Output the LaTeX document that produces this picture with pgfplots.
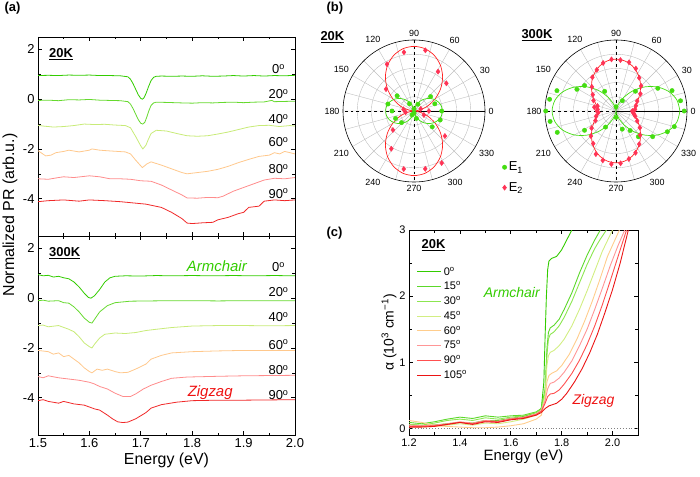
\documentclass[border=0pt]{standalone}
\usepackage{pgfplots}
\pgfplotsset{compat=1.18}
\usepgfplotslibrary{polar}
\usepackage{fontspec}
\setmainfont{Liberation Sans}
\pgfplotsset{/pgf/number format/assume math mode=true}
\definecolor{a0}{HTML}{33CC00}
\definecolor{a20}{HTML}{66D92E}
\definecolor{a40}{HTML}{C8EB78}
\definecolor{a60}{HTML}{FFC88C}
\definecolor{a80}{HTML}{FF8C8C}
\definecolor{a90}{HTML}{F02828}
\definecolor{c0}{HTML}{33CC00}
\definecolor{c15}{HTML}{5CD82A}
\definecolor{c30}{HTML}{8CE650}
\definecolor{c45}{HTML}{D2EE82}
\definecolor{c60}{HTML}{FFCD8C}
\definecolor{c75}{HTML}{FF9696}
\definecolor{c90}{HTML}{FF5050}
\definecolor{c105}{HTML}{EB1414}
\definecolor{gP}{HTML}{44DD11}
\definecolor{rP}{HTML}{FF3355}
\definecolor{rC}{HTML}{FF2222}
\definecolor{arm}{HTML}{33CC00}
\definecolor{zig}{HTML}{EE1111}
\tikzset{degl/.style={font=\fontsize{13}{14}\selectfont}}
\pgfplotsset{
  aframe/.style={scale only axis, width=257bp, height=199bp,
    xmin=1.5, xmax=2.0, ymin=-5.5, ymax=2.5,
    xtick={1.5,1.6,1.7,1.8,1.9,2.0}, ytick={-4,-2,0,2},
    minor x tick num=1, minor y tick num=1,
    tick align=inside, tick pos=both,
    major tick length=4bp, minor tick length=2.5bp,
    tick label style={font=\fontsize{13}{14}\selectfont},
    axis line style={line width=0.7pt},
    every tick/.style={black, line width=0.6pt},
    every axis plot/.append style={line width=0.8pt, no marks}},
  pframe/.style={scale only axis, width=142bp, height=142bp,
    ymin=0, ymax=1, ytick={0.2,0.4,0.6,0.8}, yticklabels={},
    xtick={0,30,...,330}, minor xtick={15,45,...,345},
    xticklabel={\pgfmathprintnumber{\tick}},
    grid=both, major grid style={gray!50, line width=0.4pt},
    minor grid style={gray!50, line width=0.4pt},
    tick style={draw=none},
    axis line style={black, line width=0.6pt},
    tick label style={font=\fontsize{9}{10}\selectfont}}
}
\begin{document}
\begin{tikzpicture}
\path[use as bounding box] (0,0) rectangle (700bp,477bp);

% ---------------- (a) top: 20K
\begin{axis}[aframe, at={(38bp,241bp)}, anchor=south west, xticklabels={}]
\addplot[a0] coordinates {(1.50,0.95)(1.52,0.96)(1.54,0.95)(1.56,0.97)(1.58,0.96)(1.60,0.97)(1.62,0.95)(1.64,0.95)(1.66,0.94)(1.675,0.90)(1.68,0.80)(1.685,0.62)(1.69,0.40)(1.695,0.18)(1.70,0.03)(1.703,0.0)(1.706,0.05)(1.71,0.22)(1.715,0.50)(1.72,0.75)(1.725,0.88)(1.73,0.92)(1.74,0.93)(1.76,0.92)(1.78,0.93)(1.80,0.92)(1.82,0.94)(1.84,0.92)(1.86,0.93)(1.88,0.95)(1.90,0.93)(1.92,0.95)(1.94,0.93)(1.96,0.95)(1.98,0.94)(2.00,0.96)};
\addplot[a20] coordinates {(1.50,-0.05)(1.52,-0.04)(1.54,-0.06)(1.56,-0.02)(1.58,-0.03)(1.60,-0.01)(1.62,-0.04)(1.64,-0.05)(1.66,-0.06)(1.675,-0.10)(1.68,-0.2)(1.685,-0.38)(1.69,-0.6)(1.695,-0.82)(1.70,-0.97)(1.704,-1.0)(1.708,-0.92)(1.712,-0.7)(1.716,-0.45)(1.72,-0.25)(1.725,-0.15)(1.73,-0.12)(1.75,-0.13)(1.78,-0.15)(1.80,-0.16)(1.82,-0.14)(1.84,-0.15)(1.86,-0.13)(1.88,-0.12)(1.90,-0.14)(1.92,-0.12)(1.94,-0.11)(1.955,-0.05)(1.96,-0.1)(1.98,-0.09)(2.00,-0.08)};
\addplot[a40] coordinates {(1.50,-1.05)(1.51,-1.08)(1.53,-1.12)(1.55,-1.10)(1.57,-1.06)(1.59,-1.00)(1.61,-1.02)(1.63,-1.01)(1.65,-1.04)(1.67,-1.06)(1.68,-1.15)(1.69,-1.5)(1.70,-1.88)(1.704,-2.0)(1.71,-1.85)(1.715,-1.6)(1.72,-1.38)(1.73,-1.25)(1.75,-1.28)(1.77,-1.38)(1.79,-1.47)(1.81,-1.49)(1.83,-1.47)(1.85,-1.40)(1.87,-1.32)(1.89,-1.22)(1.91,-1.12)(1.93,-1.06)(1.95,-1.05)(1.97,-1.10)(1.99,-1.06)(2.00,-1.08)};
\addplot[a60] coordinates {(1.50,-2.07)(1.515,-2.28)(1.525,-2.25)(1.535,-2.15)(1.55,-2.1)(1.56,-2.05)(1.58,-2.12)(1.60,-2.05)(1.605,-2.0)(1.62,-2.05)(1.64,-2.08)(1.67,-2.12)(1.68,-2.2)(1.69,-2.45)(1.703,-2.75)(1.712,-2.6)(1.72,-2.52)(1.74,-2.65)(1.76,-2.8)(1.78,-2.95)(1.79,-3.0)(1.81,-2.95)(1.83,-2.9)(1.85,-2.82)(1.87,-2.7)(1.89,-2.55)(1.91,-2.42)(1.93,-2.3)(1.95,-2.25)(1.96,-2.15)(1.97,-2.2)(1.98,-2.1)(2.00,-2.2)};
\addplot[a80] coordinates {(1.50,-3.2)(1.52,-3.22)(1.54,-3.15)(1.55,-3.12)(1.57,-3.15)(1.60,-3.08)(1.62,-3.12)(1.64,-3.2)(1.66,-3.2)(1.68,-3.22)(1.70,-3.28)(1.72,-3.3)(1.74,-3.45)(1.76,-3.65)(1.78,-3.85)(1.79,-3.97)(1.81,-3.98)(1.83,-3.95)(1.85,-3.96)(1.86,-3.9)(1.88,-3.7)(1.90,-3.55)(1.92,-3.4)(1.94,-3.25)(1.96,-3.18)(1.98,-3.2)(2.00,-3.15)};
\addplot[a90] coordinates {(1.50,-4.12)(1.52,-4.08)(1.55,-4.05)(1.58,-4.1)(1.60,-4.05)(1.63,-4.08)(1.66,-4.12)(1.69,-4.18)(1.71,-4.22)(1.74,-4.35)(1.76,-4.55)(1.78,-4.8)(1.79,-4.98)(1.80,-5.0)(1.82,-4.97)(1.84,-4.95)(1.85,-4.85)(1.87,-4.75)(1.89,-4.6)(1.90,-4.55)(1.91,-4.35)(1.93,-4.3)(1.94,-4.1)(1.96,-4.05)(1.98,-4.08)(2.00,-4.05)};
\node[anchor=west, font=\bfseries\fontsize{13}{14}\selectfont] at (axis cs:1.515,1.8) {\underline{20K}};
\node[degl] at (axis cs:1.968,1.2) {0\textsuperscript{o}};
\node[degl] at (axis cs:1.968,0.2) {20\textsuperscript{o}};
\node[degl] at (axis cs:1.968,-0.8) {40\textsuperscript{o}};
\node[degl] at (axis cs:1.968,-1.72) {60\textsuperscript{o}};
\node[degl] at (axis cs:1.968,-2.8) {80\textsuperscript{o}};
\node[degl] at (axis cs:1.968,-3.8) {90\textsuperscript{o}};
\end{axis}

% ---------------- (a) bottom: 300K
\begin{axis}[aframe, at={(38bp,42bp)}, anchor=south west,
  xticklabel style={/pgf/number format/.cd, fixed, fixed zerofill, precision=1},
  xlabel={Energy (eV)}, xlabel style={font=\fontsize{16}{18}\selectfont, yshift=2bp}]
\addplot[a0] coordinates {(1.50,0.95)(1.51,0.90)(1.52,0.92)(1.53,0.85)(1.54,0.88)(1.55,0.82)(1.56,0.78)(1.57,0.65)(1.58,0.45)(1.59,0.2)(1.598,0.03)(1.603,0.0)(1.61,0.1)(1.62,0.35)(1.63,0.65)(1.64,0.82)(1.65,0.88)(1.67,0.9)(1.70,0.89)(1.73,0.91)(1.76,0.9)(1.80,0.91)(1.84,0.9)(1.88,0.91)(1.92,0.9)(1.96,0.91)(2.00,0.9)};
\addplot[a20] coordinates {(1.50,-0.1)(1.51,-0.08)(1.52,-0.12)(1.54,-0.1)(1.55,-0.18)(1.56,-0.2)(1.57,-0.35)(1.58,-0.55)(1.59,-0.8)(1.60,-0.97)(1.605,-1.0)(1.61,-0.85)(1.62,-0.55)(1.635,-0.3)(1.65,-0.18)(1.68,-0.12)(1.72,-0.11)(1.76,-0.1)(1.80,-0.1)(1.85,-0.11)(1.90,-0.1)(1.95,-0.1)(2.00,-0.1)};
\addplot[a40] coordinates {(1.50,-1.1)(1.51,-1.08)(1.52,-1.15)(1.54,-1.1)(1.56,-1.25)(1.57,-1.35)(1.58,-1.55)(1.59,-1.8)(1.60,-1.95)(1.605,-2.0)(1.61,-1.85)(1.62,-1.6)(1.63,-1.45)(1.65,-1.4)(1.67,-1.42)(1.69,-1.38)(1.71,-1.3)(1.73,-1.25)(1.76,-1.18)(1.80,-1.12)(1.85,-1.1)(1.90,-1.1)(1.95,-1.11)(2.00,-1.1)};
\addplot[a60] coordinates {(1.50,-2.1)(1.52,-2.15)(1.53,-2.25)(1.54,-2.2)(1.55,-2.35)(1.56,-2.3)(1.57,-2.45)(1.58,-2.6)(1.59,-2.8)(1.60,-2.95)(1.605,-3.0)(1.615,-2.85)(1.625,-2.9)(1.635,-2.85)(1.65,-2.95)(1.66,-3.0)(1.675,-2.98)(1.69,-2.85)(1.71,-2.65)(1.72,-2.45)(1.74,-2.3)(1.76,-2.2)(1.80,-2.15)(1.85,-2.12)(1.90,-2.1)(1.95,-2.1)(2.00,-2.1)};
\addplot[a80] coordinates {(1.50,-3.15)(1.51,-3.2)(1.52,-3.12)(1.54,-3.2)(1.56,-3.25)(1.58,-3.3)(1.60,-3.38)(1.61,-3.45)(1.62,-3.55)(1.635,-3.65)(1.65,-3.82)(1.665,-3.95)(1.68,-3.95)(1.69,-3.85)(1.705,-3.65)(1.72,-3.5)(1.74,-3.35)(1.76,-3.22)(1.79,-3.17)(1.85,-3.14)(1.90,-3.12)(1.95,-3.11)(2.00,-3.1)};
\addplot[a90] coordinates {(1.50,-4.12)(1.51,-4.08)(1.52,-4.15)(1.54,-4.22)(1.55,-4.15)(1.57,-4.25)(1.59,-4.3)(1.61,-4.45)(1.62,-4.5)(1.635,-4.7)(1.645,-4.85)(1.655,-4.97)(1.665,-5.0)(1.675,-4.98)(1.69,-4.85)(1.71,-4.6)(1.72,-4.42)(1.74,-4.28)(1.77,-4.18)(1.80,-4.12)(1.85,-4.1)(1.90,-4.1)(1.95,-4.09)(2.00,-4.08)};
\node[anchor=west, font=\bfseries\fontsize{13}{14}\selectfont] at (axis cs:1.515,1.8) {\underline{300K}};
\node[degl] at (axis cs:1.968,1.26) {0\textsuperscript{o}};
\node[degl] at (axis cs:1.968,0.24) {20\textsuperscript{o}};
\node[degl] at (axis cs:1.968,-0.77) {40\textsuperscript{o}};
\node[degl] at (axis cs:1.968,-1.87) {60\textsuperscript{o}};
\node[degl] at (axis cs:1.968,-2.89) {80\textsuperscript{o}};
\node[degl] at (axis cs:1.968,-3.9) {90\textsuperscript{o}};
\node[text=arm, font=\itshape\fontsize{15}{16}\selectfont] at (axis cs:1.848,1.3) {Armchair};
\node[text=zig, font=\itshape\fontsize{15}{16}\selectfont] at (axis cs:1.835,-3.78) {Zigzag};
\end{axis}
\node[rotate=90, font=\fontsize{16}{18}\selectfont] at (10bp,262bp) {Normalized PR (arb.u.)};

% ---------------- (b) left polar: 20K
\begin{polaraxis}[pframe, at={(414bp,366bp)}, anchor=center,
  legend style={draw=none, fill=none, at={(1.10,0.17)}, anchor=north west,
    font=\fontsize{13}{14}\selectfont, row sep=6bp}]
\addplot[only marks, mark=*, mark size=2.2bp, color=gP] coordinates {(138,0.32)(165,0.38)(180,0.31)(202,0.28)(223,0.24)(122,0.12)(60,0.11)(41,0.31)(19,0.31)(0,0.39)(341,0.39)(319,0.34)(288,0.11)(243,0.06)(90,0.03)(270,0.03)};
\addlegendentry{E\textsubscript{1}}
\addplot[only marks, mark=diamond*, mark size=2.6bp, color=rP] coordinates {(99.7,0.84)(79.4,0.87)(58.6,0.65)(40.6,0.60)(120,0.76)(142,0.50)(171,0.15)(189,0.12)(17,0.10)(0,0.21)(338,0.15)(222,0.40)(239,0.62)(260,0.83)(281,0.83)(298,0.83)(321,0.56)};
\addlegendentry{E\textsubscript{2}}
\addplot[black, dashed, line width=0.5pt, forget plot] coordinates {(0,1)(180,1)};
\addplot[black, dashed, line width=0.5pt, forget plot] coordinates {(90,1)(270,1)};
\addplot[rC, smooth, line width=0.7pt, forget plot] coordinates {(0,0)(10,0.078)(20,0.203)(30,0.345)(40,0.490)(50,0.627)(60,0.744)(70,0.834)(80,0.891)(90,0.91)(100,0.891)(110,0.834)(120,0.744)(130,0.627)(140,0.490)(150,0.345)(160,0.203)(170,0.078)(180,0)(190,0.078)(200,0.203)(210,0.345)(220,0.490)(230,0.627)(240,0.744)(250,0.834)(260,0.891)(270,0.91)(280,0.891)(290,0.834)(300,0.744)(310,0.627)(320,0.490)(330,0.345)(340,0.203)(350,0.078)(360,0)};
\addplot[gP, smooth, line width=0.7pt, forget plot] coordinates {(0,0.40)(10,0.392)(20,0.367)(30,0.327)(40,0.276)(50,0.216)(60,0.152)(70,0.089)(80,0.034)(90,0)(100,0.034)(110,0.089)(120,0.152)(130,0.216)(140,0.276)(150,0.327)(160,0.367)(170,0.392)(180,0.40)(190,0.392)(200,0.367)(210,0.327)(220,0.276)(230,0.216)(240,0.152)(250,0.089)(260,0.034)(270,0)(280,0.034)(290,0.089)(300,0.152)(310,0.216)(320,0.276)(330,0.327)(340,0.367)(350,0.392)(360,0.40)};
\end{polaraxis}

% ---------------- (b) right polar: 300K
\begin{polaraxis}[pframe, at={(616bp,366bp)}, anchor=center]
\addplot[black, dashed, line width=0.5pt] coordinates {(0,1)(180,1)};
\addplot[black, dashed, line width=0.5pt] coordinates {(90,1)(270,1)};
\addplot[gP, smooth, line width=0.7pt] coordinates {(0,0.90)(10,0.873)(20,0.795)(30,0.675)(40,0.528)(50,0.372)(60,0.225)(70,0.105)(80,0.027)(90,0)(100,0.027)(110,0.105)(120,0.225)(130,0.372)(140,0.528)(150,0.675)(160,0.795)(170,0.873)(180,0.90)(190,0.873)(200,0.795)(210,0.675)(220,0.528)(230,0.372)(240,0.225)(250,0.105)(260,0.027)(270,0)(280,0.027)(290,0.105)(300,0.225)(310,0.372)(320,0.528)(330,0.675)(340,0.795)(350,0.873)(360,0.90)};
\addplot[rC, smooth, line width=0.7pt] coordinates {(0,0.25)(10,0.264)(20,0.306)(30,0.37)(40,0.448)(50,0.532)(60,0.61)(70,0.674)(80,0.716)(90,0.73)(100,0.716)(110,0.674)(120,0.61)(130,0.532)(140,0.448)(150,0.37)(160,0.306)(170,0.264)(180,0.25)(190,0.264)(200,0.306)(210,0.37)(220,0.448)(230,0.532)(240,0.61)(250,0.674)(260,0.716)(270,0.73)(280,0.716)(290,0.674)(300,0.61)(310,0.532)(320,0.448)(330,0.37)(340,0.306)(350,0.264)(360,0.25)};
\addplot[only marks, mark=*, mark size=2.2bp, color=gP] coordinates {(161,0.88)(170,0.95)(180,0.99)(189,0.94)(200,0.88)(151,0.63)(141,0.57)(120,0.32)(90,0.06)(270,0.09)(237,0.27)(211.5,0.52)(289,0.27)(306,0.34)(311,0.48)(325,0.63)(338,0.78)(345,0.85)(0,0.96)(9,0.92)(20,0.84)(28.5,0.67)(45.5,0.39)(58.5,0.17)};
\addplot[only marks, mark=diamond*, mark size=2.6bp, color=rP] coordinates {(5,0.27)(15,0.29)(25,0.33)(35,0.42)(45,0.50)(55,0.57)(65,0.66)(75,0.71)(85,0.72)(95,0.73)(105,0.70)(115,0.64)(125,0.58)(135,0.48)(145,0.40)(155,0.35)(165,0.27)(175,0.26)(185,0.25)(195,0.29)(205,0.32)(215,0.42)(225,0.50)(235,0.56)(245,0.67)(255,0.72)(265,0.75)(275,0.74)(285,0.70)(295,0.65)(305,0.57)(315,0.48)(325,0.41)(335,0.33)(345,0.28)(355,0.24)(180,0.27)(170,0.31)(0,0.23)(350,0.26)};
\end{polaraxis}
\node[anchor=west, font=\bfseries\fontsize{13}{14}\selectfont] at (317bp,440bp) {\underline{20K}};
\node[anchor=west, font=\bfseries\fontsize{13}{14}\selectfont] at (518bp,442bp) {\underline{300K}};

% ---------------- (c)
\begin{axis}[scale only axis, width=229bp, height=205bp, at={(409bp,42bp)}, anchor=south west,
  xmin=1.2, xmax=2.1, ymin=-0.1, ymax=3,
  xtick={1.2,1.4,1.6,1.8,2.0}, ytick={0,1,2,3},
  minor x tick num=1, minor y tick num=1,
  xticklabel style={/pgf/number format/.cd, fixed, fixed zerofill, precision=1},
  tick align=inside, tick pos=both,
  major tick length=4bp, minor tick length=2.5bp,
  tick label style={font=\fontsize{11}{12}\selectfont},
  axis line style={line width=0.7pt},
  every tick/.style={black, line width=0.6pt},
  xlabel={Energy (eV)}, xlabel style={font=\fontsize{15}{16}\selectfont, yshift=3bp},
  ylabel={α (10\textsuperscript{3} cm\textsuperscript{−1})}, ylabel style={font=\fontsize{14}{16}\selectfont, yshift=-4bp},
  every axis plot/.append style={line width=0.9pt, no marks},
  legend style={draw=none, fill=none, at={(0.02,0.84)}, anchor=north west,
    font=\fontsize{11}{12}\selectfont, row sep=1.2bp},
  legend cell align=left,
  legend image code/.code={\draw[#1, line width=1.1pt] (0bp,0bp) -- (24bp,0bp);}]
\addplot[gray, dotted, line width=0.6pt, forget plot] coordinates {(1.2,0)(2.1,0)};
\addplot[c0] coordinates {(1.20,0.06)(1.25,0.04)(1.30,0.05)(1.35,0.07)(1.40,0.09)(1.45,0.08)(1.50,0.12)(1.55,0.12)(1.60,0.15)(1.65,0.18)(1.70,0.24)(1.72,0.30)(1.73,0.7)(1.735,1.4)(1.74,2.0)(1.745,2.4)(1.75,2.53)(1.76,2.57)(1.78,2.6)(1.80,2.7)(1.82,2.85)(1.84,3.0)};
\addlegendentry{0\textsuperscript{o}}
\addplot[c15] coordinates {(1.2,0.09)(1.25,0.07)(1.3,0.1)(1.35,0.14)(1.4,0.17)(1.45,0.15)(1.5,0.19)(1.55,0.17)(1.6,0.19)(1.65,0.2)(1.7,0.25)(1.72,0.3)(1.735,0.6)(1.742,1.2)(1.748,1.45)(1.755,1.52)(1.77,1.56)(1.79,1.65)(1.81,1.8)(1.84,2.05)(1.87,2.35)(1.90,2.62)(1.93,2.85)(1.952,3.0)};
\addlegendentry{15\textsuperscript{o}}
\addplot[c30] coordinates {(1.2,0.06)(1.25,0.05)(1.3,0.08)(1.35,0.12)(1.4,0.14)(1.45,0.12)(1.5,0.16)(1.55,0.14)(1.6,0.17)(1.65,0.19)(1.7,0.24)(1.72,0.29)(1.735,0.55)(1.742,1.1)(1.748,1.35)(1.755,1.42)(1.77,1.46)(1.79,1.55)(1.81,1.68)(1.84,1.92)(1.87,2.2)(1.90,2.48)(1.93,2.72)(1.95,2.85)(1.976,3.0)};
\addlegendentry{30\textsuperscript{o}}
\addplot[c45] coordinates {(1.2,0.03)(1.25,0.02)(1.3,0.03)(1.35,0.05)(1.4,0.07)(1.45,0.05)(1.5,0.08)(1.55,0.07)(1.6,0.1)(1.65,0.14)(1.7,0.2)(1.72,0.26)(1.735,0.5)(1.742,0.95)(1.748,1.1)(1.755,1.15)(1.77,1.18)(1.79,1.25)(1.81,1.35)(1.84,1.55)(1.87,1.8)(1.90,2.08)(1.93,2.38)(1.96,2.68)(2.0,3.0)};
\addlegendentry{45\textsuperscript{o}}
\addplot[c60] coordinates {(1.2,0.12)(1.25,0.09)(1.3,0.04)(1.35,0.03)(1.4,0.02)(1.45,0.01)(1.5,0.01)(1.55,0.02)(1.6,0.04)(1.65,0.07)(1.7,0.14)(1.72,0.2)(1.735,0.42)(1.742,0.7)(1.75,0.8)(1.76,0.83)(1.78,0.87)(1.80,0.95)(1.83,1.12)(1.86,1.35)(1.89,1.62)(1.92,1.92)(1.95,2.25)(1.98,2.6)(2.027,3.0)};
\addlegendentry{60\textsuperscript{o}}
\addplot[c75] coordinates {(1.2,0.05)(1.25,0.04)(1.3,0.05)(1.35,0.07)(1.4,0.1)(1.45,0.08)(1.5,0.12)(1.55,0.11)(1.6,0.15)(1.65,0.17)(1.7,0.22)(1.72,0.27)(1.735,0.42)(1.745,0.6)(1.755,0.68)(1.77,0.7)(1.79,0.76)(1.81,0.85)(1.84,1.02)(1.87,1.25)(1.90,1.5)(1.93,1.8)(1.96,2.12)(1.99,2.45)(2.02,2.75)(2.048,3.0)};
\addlegendentry{75\textsuperscript{o}}
\addplot[c90] coordinates {(1.2,0.03)(1.25,0.03)(1.3,0.04)(1.35,0.06)(1.4,0.09)(1.45,0.07)(1.5,0.11)(1.55,0.1)(1.6,0.14)(1.65,0.16)(1.7,0.21)(1.72,0.26)(1.735,0.38)(1.745,0.48)(1.755,0.52)(1.77,0.53)(1.79,0.58)(1.81,0.67)(1.84,0.83)(1.87,1.03)(1.90,1.27)(1.93,1.55)(1.96,1.87)(1.99,2.22)(2.02,2.58)(2.055,3.0)};
\addlegendentry{90\textsuperscript{o}}
\addplot[c105] coordinates {(1.2,0.02)(1.25,0.02)(1.3,0.03)(1.35,0.06)(1.4,0.09)(1.45,0.06)(1.5,0.1)(1.55,0.09)(1.6,0.13)(1.65,0.15)(1.7,0.2)(1.72,0.24)(1.735,0.3)(1.75,0.34)(1.765,0.36)(1.78,0.38)(1.80,0.44)(1.82,0.53)(1.85,0.7)(1.88,0.9)(1.91,1.14)(1.94,1.42)(1.97,1.75)(2.0,2.1)(2.03,2.5)(2.062,3.0)};
\addlegendentry{105\textsuperscript{o}}
\node[anchor=west, font=\bfseries\fontsize{13}{14}\selectfont] at (axis cs:1.236,2.77) {\underline{20K}};
\node[text=arm, font=\itshape\fontsize{14}{15}\selectfont] at (axis cs:1.604,2.06) {Armchair};
\node[text=zig, font=\itshape\fontsize{14}{15}\selectfont] at (axis cs:1.925,0.42) {Zigzag};
\end{axis}

% panel labels
\node[anchor=west, font=\bfseries\fontsize{13}{14}\selectfont] at (1bp,469bp) {(a)};
\node[anchor=west, font=\bfseries\fontsize{13}{14}\selectfont] at (323bp,469bp) {(b)};
\node[anchor=west, font=\bfseries\fontsize{13}{14}\selectfont] at (323bp,244bp) {(c)};
\end{tikzpicture}
\end{document}
